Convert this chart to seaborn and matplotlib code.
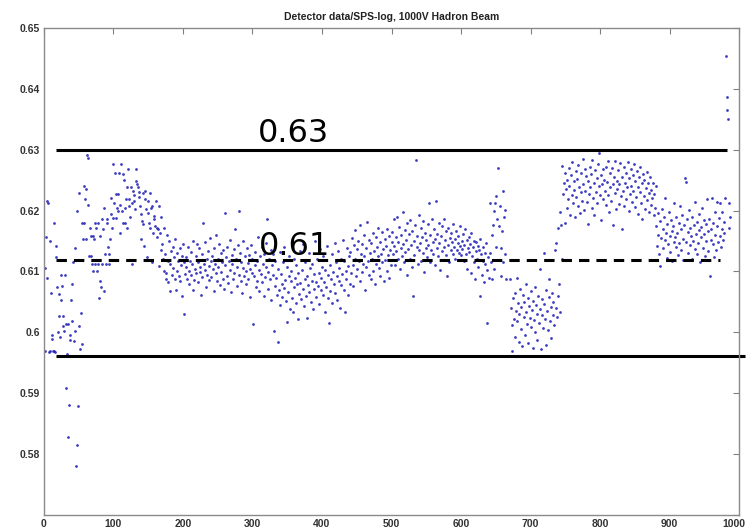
import numpy as np
import pandas as pd
import matplotlib
matplotlib.use("Agg")
import matplotlib.pyplot as plt
import seaborn as sns

# Detector readings, stored as offsets above 0.6 in units of 1e-4,
# grouped by run segment; each segment starts at the given sample number.
seg_warmup = [106, -30, 156, 90, 216, 212, -33, -30, 150, 65,
              -5, -11, -30, 179, -30, -32, 142, 123, 74, 1,
              63, 27, -8, 54, 95, 76, 27, 10, 2, 95,
              -92, 13, -36, 13, -172, -120, -5, -12, 54, 19,
              79, 115, -14, 139, 2]
seg_rise = [-220, -185, 199, -121, 11, 229, -28, 32, -19, 180,
            153, 240, 180, 219, 235, 153, 292, 287, 210, 125,
            172, 158, 125, 112, 158, 101, 153, 112, 180, 172,
            101, 180, 112, 57, 85, 158, 74, 112, 186, 169,
            205, 68, 128, 112, 186, 180, 140, 128, 112, 153,
            221, 194, 172, 276, 188]
seg_high1 = [213, 262, 227, 188, 205, 199, 227, 262, 164, 210,
             276, 199, 180, 260, 251, 205, 180, 219, 172, 238,
             269, 219, 208, 190, 238, 112, 213, 232, 225, 216,
             203, 249, 269, 244, 238, 230, 222, 207, 194, 153,
             183, 178, 229, 142, 232, 219, 202, 123, 215, 196,
             180, 229, 172, 205, 115, 208, 164, 191, 186, 175]
seg_fall = [216, 172, 156, 169, 208, 109, 164, 189, 136, 145,
            120, 172, 101, 128, 98, 87, 160, 82, 118, 150,
            68, 112, 134, 95, 141, 105, 124, 88, 153, 70,
            131, 100, 117, 92, 84, 138, 110, 125, 60, 145]
seg_mid1 = [30, 115, 96, 124, 108, 88, 140, 101, 79, 118,
            132, 94, 112, 70, 150, 86, 104, 125, 97, 145,
            116, 82, 138, 99, 108, 62, 128, 91, 180, 113,
            102, 148, 75, 120, 95, 133, 109, 86, 155, 118,
            91, 126, 104, 68, 139, 113, 97, 160, 84, 121,
            107, 145, 78, 130, 99, 116, 88, 135, 72, 110,
            196, 124, 93, 141, 81, 118, 103, 152, 66, 127,
            112, 87, 137, 98, 170, 120, 76, 108, 143, 95,
            199, 131, 85, 116, 64, 106, 150, 92, 125, 101,
            79, 139, 114, 88, 127, 58, 104, 144, 97, 121,
            14, 93, 132, 110, 74, 118, 85, 156, 103, 68,
            125, 96, 140, 82, 113, 60, 129, 91, 107, 147,
            186, 99, 72, 121, 88, 135, 53, 110, 94, 128]
seg_mid2 = [2, 76, 118, 90, 61, -15, 104, 70, 132, 45,
            96, 80, 58, 115, 73, 140, 86, 52, 17, 108,
            66, 92, 125, 38, 84, 100, 57, 33, 120, 74,
            89, 48, 111, 79, 22, 97, 63, 134, 81, 55,
            102, 71, 145, 44, 88, 116, 60, 93, 24, 78,
            130, 67, 105, 50, 85, 112, 39, 96, 72, 150,
            83, 58, 121, 76, 98, 46, 137, 69, 90, 108,
            61, 125, 82, 33, 103, 74, 142, 57, 94, 16,
            110, 68, 87, 128, 49, 99, 79, 146, 64, 115,
            92, 53, 133, 85, 105, 40, 120, 77, 96, 152,
            70, 118, 33, 101, 88, 139, 62, 109, 126, 80]
seg_mid3 = [132, 97, 155, 110, 76, 143, 121, 168, 92, 137,
            104, 150, 118, 85, 176, 128, 99, 145, 112, 160,
            125, 70, 138, 108, 182, 117, 95, 152, 131, 88,
            146, 120, 163, 101, 134, 79, 157, 113, 140, 126,
            172, 106, 148, 93, 129, 165, 115, 137, 84, 153,
            119, 142, 100, 170, 127, 90, 158, 135, 111, 149]
seg_mid4 = [165, 128, 186, 142, 110, 157, 134, 190, 121, 148,
            173, 104, 139, 160, 126, 198, 145, 115, 168, 132,
            152, 95, 179, 137, 161, 120, 185, 143, 108, 166,
            60, 150, 127, 176, 283, 141, 159, 113, 192, 135,
            147, 171, 118, 156, 130, 183, 99, 164, 139, 152,
            124, 178, 143, 213, 116, 160, 136, 187, 128, 149,
            170, 111, 154, 215, 138, 162, 125, 180, 146, 103,
            158, 133, 175, 119, 186, 141, 151, 127, 167, 92,
            144, 172, 116, 155, 136, 163, 148, 129, 178, 140,
            153, 121, 166, 135, 146, 158, 131, 174, 142, 127,
            150, 137, 161, 118, 144, 169, 128, 152, 104, 139,
            157, 132, 145, 98, 163, 126, 140, 115, 150, 88,
            134, 148, 121, 142, 108, 136, 60, 153, 129, 95,
            141, 117, 83, 130, 112, 146, 16, 102, 124, 90]
seg_burst = [213, 131, 115, 160, 87, 176, 199, 104, 213, 140,
             224, 186, 270, 119, 175, 208, 139, 92, 166, 232,
             115, 190, 128, 201, 87]
seg_dip = [88, 40, 12, -30, 57, 22, 65, -8, 35, 90,
           18, 48, -15, 30, 72, 5, 41, -22, 62, 26,
           50, -5, 80, 33, 14, 56, -18, 44, 24, 68,
           9, 37, -25, 52, 20, 75, 1, 45, -12, 31,
           60, 15, 104, 39, -28, 55, 28, 8, 131, 47,
           22, -20, 70, 35, 4, 58, 87, 18, 42, -10,
           64, 29, 50, 12, 136, 40, 147, 25, 172, 60,
           80, 33, 197, 177, 120]
seg_high2 = [274, 228, 245, 180, 262, 236, 204, 251, 219, 270,
             241, 193, 258, 226, 280, 212, 248, 234, 189, 265,
             223, 252, 207, 275, 239, 196, 261, 230, 216, 285,
             244, 201, 268, 233, 257, 214, 178, 249, 227, 272,
             238, 260, 205, 283, 221, 246, 192, 266, 231, 254,
             213, 277, 240, 294, 226, 258, 185, 243, 268, 219,
             251, 233, 272, 209, 247, 281, 225, 197, 262, 238,
             215, 270, 244, 177, 256, 229, 281, 203, 249, 236,
             266, 211, 243, 278, 224, 169, 255, 232, 271, 207,
             245, 219, 262, 238, 280, 199, 253, 227, 268, 241,
             214, 259, 233, 276, 206, 248, 222, 265, 194, 239,
             255, 230, 271, 212, 246, 187, 260, 224, 250, 203,
             237, 263, 218, 245, 198, 229, 256, 210, 234, 221,
             246, 192, 228, 205, 240]
seg_tail = [175, 142, 196, 160, 128, 183, 109, 155, 203, 170,
            138, 189, 151, 221, 164, 122, 178, 145, 198, 159,
            132, 185, 167, 118, 174, 149, 212, 157, 140, 190,
            163, 127, 180, 146, 208, 170, 135, 192, 154, 119,
            177, 254, 148, 247, 186, 131, 165, 201, 143, 172,
            158, 120, 189, 150, 176, 137, 214, 162, 128, 181,
            147, 195, 168, 115, 173, 156, 204, 139, 184, 161,
            126, 178, 150, 219, 166, 134, 187, 93, 170, 152,
            221, 145, 180, 124, 197, 160, 136, 214, 175, 149,
            188, 158, 213, 141, 170, 198, 152, 182, 163, 220]
seg_end = [454, 386, 366, 351, 213, 172, 190]

segments = [seg_warmup, seg_rise, seg_high1, seg_fall, seg_mid1, seg_mid2,
            seg_mid3, seg_mid4, seg_burst, seg_dip, seg_high2, seg_tail, seg_end]
segment_starts = [1, 46, 101, 161, 201, 331, 441, 501, 641, 671, 746, 881, 981]

# Reference levels drawn across the run
upper_level = 0.630
mean_level = 0.6119
lower_level = 0.5961
upper_label = "0.63"
mean_label = "0.61"

x_ticks = [0, 100, 200, 300, 400, 500, 600, 700, 800, 900, 1000]
x_tick_labels = ["0", "100", "200", "300", "400", "500", "600", "700", "800", "900", ""]
y_ticks = [0.57, 0.58, 0.59, 0.60, 0.61, 0.62, 0.63, 0.64, 0.65]
y_tick_labels = ["", "0.58", "0.59", "0.6", "0.61", "0.62", "0.63", "0.64", "0.65"]

rows = []
for start, seg in zip(segment_starts, segments):
    for i, v in enumerate(seg):
        rows.append((start + i, 0.6 + v / 10000.0))
df = pd.DataFrame(rows, columns=["sample", "value"])

sns.set_theme(style="white")
plt.rcParams["font.family"] = ["Liberation Sans", "DejaVu Sans"]

fig = plt.figure(figsize=(7.48, 5.28), dpi=100)
ax = fig.add_axes([0.0588, 0.0246, 0.9292, 0.9224])

sns.scatterplot(data=df, x="sample", y="value", ax=ax, s=4, marker="o",
                color="#2222b6", linewidth=0, alpha=0.88, legend=False)

ax.plot([17, 983], [upper_level, upper_level], color="black", lw=2.2,
        solid_capstyle="butt")
ax.plot([17, 973], [mean_level, mean_level], color="black", lw=2.2,
        dashes=(3.4, 2.3))
ax.plot([17, 1008], [lower_level, lower_level], color="black", lw=2.2,
        solid_capstyle="butt", clip_on=False)

ax.text(308, 0.6313, upper_label, fontsize=23, ha="left", va="baseline",
        family="DejaVu Sans", color="black")
ax.text(309, 0.6127, mean_label, fontsize=23, ha="left", va="baseline",
        family="DejaVu Sans", color="black")

ax.set_xlim(0, 1000)
ax.set_ylim(0.57, 0.65)
ax.set_xticks(x_ticks)
ax.set_xticklabels(x_tick_labels)
ax.set_yticks(y_ticks)
ax.set_yticklabels(y_tick_labels)
ax.set_xlabel("")
ax.set_ylabel("")

tick_font = dict(fontweight="bold", fontsize=7.5, color="#333333")
for lab in ax.get_xticklabels() + ax.get_yticklabels():
    lab.set_fontweight(tick_font["fontweight"])
    lab.set_fontsize(tick_font["fontsize"])
    lab.set_color(tick_font["color"])

# last x label sits at the figure edge, nudged inward so it stays visible
ax.annotate("1000", xy=(1000, 0), xycoords=("data", "axes fraction"),
            xytext=(-4, -3), textcoords="offset points", ha="center", va="top",
            annotation_clip=False, **tick_font)

ax.tick_params(axis="both", direction="in", length=4, width=0.8,
               color="#808080", top=True, right=True, pad=3)
for sp in ax.spines.values():
    sp.set_color("#8a8a8a")
    sp.set_linewidth(1.0)

ax.set_title("Detector data/SPS-log, 1000V Hadron Beam", fontsize=7.5,
             fontweight="bold", color="#222222", pad=6)

fig.savefig("out.png", dpi=100)
